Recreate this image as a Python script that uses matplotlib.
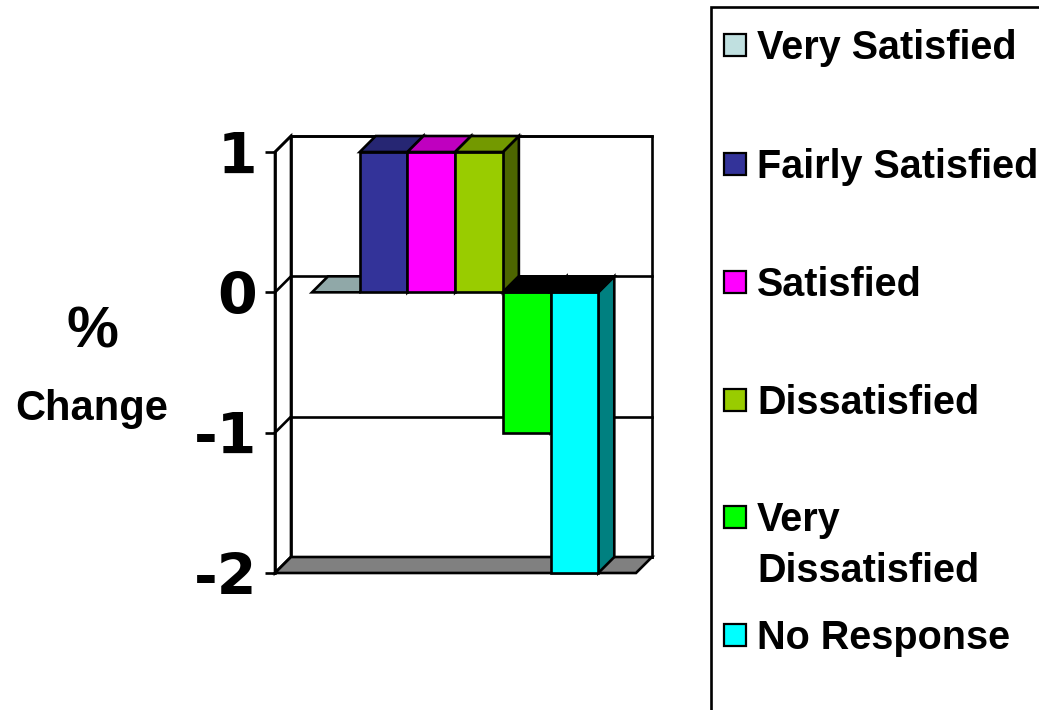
import numpy as np
import matplotlib.pyplot as plt
from matplotlib.patches import Polygon, Rectangle
from matplotlib.colors import to_rgb

categories = ["Very Satisfied", "Fairly Satisfied", "Satisfied", "Dissatisfied",
              "Very\nDissatisfied", "No Response"]
values = [0, 1, 1, 1, -1, -2]
colors = ["#C0E0E0", "#333399", "#FF00FF", "#99CC00", "#00FF00", "#00FFFF"]
y_ticks = [1, 0, -1, -2]

W, H = 1039, 710
fig = plt.figure(figsize=(W / 100, H / 100), dpi=100)

# front plane of the 3d box
ax = fig.add_axes([275 / W, (H - 573) / H, 361 / W, 421 / H])
ax.set_facecolor("none")
x0, x1 = -1.276, 6.29
y0, y1 = -2, 1
ax.set_xlim(x0, x1)
ax.set_ylim(y0, y1)

# depth offset (data units)
dx, dy = 0.335, 0.114
lw = 1.9


def shade(c, f):
    return tuple(np.array(to_rgb(c)) * f)


def poly(pts, fc, z):
    ax.add_patch(Polygon(pts, closed=True, facecolor=fc, edgecolor="black",
                         linewidth=lw, joinstyle="miter", clip_on=False, zorder=z))


# back wall, left wall, floor
poly([(x0 + dx, y0 + dy), (x1 + dx, y0 + dy), (x1 + dx, y1 + dy), (x0 + dx, y1 + dy)], "white", 1)
poly([(x0, y0), (x0 + dx, y0 + dy), (x0 + dx, y1 + dy), (x0, y1)], "white", 1)
for t in y_ticks:
    ax.plot([x0 + dx, x1 + dx], [t + dy, t + dy], color="black", lw=lw, clip_on=False, zorder=2)
    ax.plot([x0, x0 + dx], [t, t + dy], color="black", lw=lw, clip_on=False, zorder=2)
poly([(x0, y0), (x1, y0), (x1 + dx, y0 + dy), (x0 + dx, y0 + dy)], "#808080", 3)

# bars
for i, (v, c) in enumerate(zip(values, colors)):
    left, right = i - 0.5, i + 0.5
    lo, hi = min(0, v), max(0, v)
    z = 5 + i
    if v != 0:
        poly([(right, lo), (right, hi), (right + dx, hi + dy), (right + dx, lo + dy)], shade(c, 0.5), z)
        poly([(left, lo), (right, lo), (right, hi), (left, hi)], c, z)
    top_c = shade(c, 0.75) if v >= 0 else "black"
    poly([(left, hi), (right, hi), (right + dx, hi + dy), (left + dx, hi + dy)], top_c, z)

# axis
for s in ["top", "right", "bottom"]:
    ax.spines[s].set_visible(False)
ax.spines["left"].set_linewidth(lw)
ax.spines["left"].set_zorder(20)
ax.set_xticks([])
ax.set_yticks(y_ticks)
ax.set_yticklabels([str(t) for t in y_ticks])
ax.tick_params(axis="y", direction="out", length=7, width=lw, pad=6)
for lab in ax.get_yticklabels():
    lab.set_fontfamily("DejaVu Sans")
    lab.set_fontweight("bold")
    lab.set_fontsize(41)

lf = "Liberation Sans"
fig.text(92 / W, 1 - 332 / H, "%", ha="center", va="center", fontsize=42,
         fontweight="bold", family=lf)
fig.text(92 / W, 1 - 420 / H, "Change", ha="center", va="baseline", fontsize=30,
         fontweight="bold", family=lf)

# legend
fig.add_artist(Rectangle((711 / W, -0.1), 1, 1.1 - 7 / H, transform=fig.transFigure,
                         facecolor="none", edgecolor="black", linewidth=lw))
leg_size = 28.5
cap = 0.716 * leg_size * 100 / 72
rows = [45, 164, 282, 400, 517, 635]
for name, c, yc in zip(categories, colors, rows):
    fig.add_artist(Rectangle((724 / W, 1 - (yc + 11) / H), 22 / W, 22 / H,
                             transform=fig.transFigure, facecolor=c,
                             edgecolor="black", linewidth=1.6))
    for k, line in enumerate(name.split("\n")):
        fig.text(757 / W, 1 - (yc + cap / 2 + 51 * k) / H, line, ha="left",
                 va="baseline", fontsize=leg_size, fontweight="bold", family=lf)

fig.savefig("out.png", dpi=100)
